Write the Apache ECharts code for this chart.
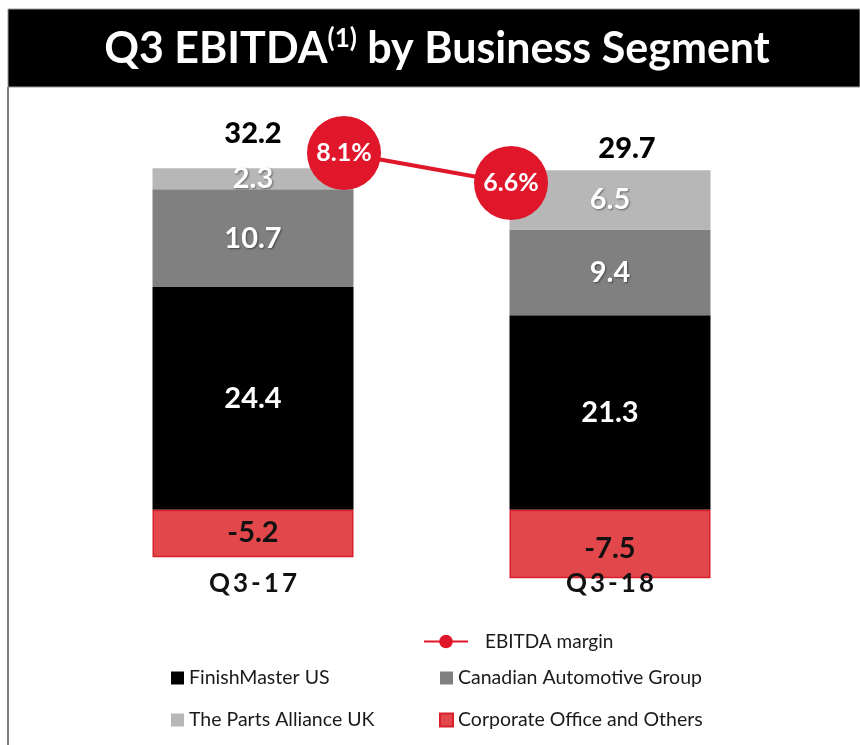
<!DOCTYPE html>
<html>
<head>
<meta charset="utf-8">
<script src="https://cdn.jsdelivr.net/npm/echarts@6/dist/echarts.min.js"></script>
<style>
html,body{margin:0;padding:0;background:#fff;}
#chart{width:860px;height:745px;}
</style>
</head>
<body>
<div id="chart"></div>
<script>
// ---- data ----
var categories = ['Q3-17', 'Q3-18'];
var finishMasterUS = [24.4, 21.3];
var canadianAutomotive = [10.7, 9.4];
var partsAllianceUK = [2.3, 6.5];
var corporateOffice = [-5.2, -7.5];
var totals = [32.2, 29.7];
var ebitdaMargin = [8.1, 6.6];
var seriesNames = ['FinishMaster US', 'Canadian Automotive Group', 'The Parts Alliance UK', 'Corporate Office and Others'];
var lineName = 'EBITDA margin';

var FONT = 'Lato';
var chart = echarts.init(document.getElementById('chart'), null, {renderer: 'canvas'});

var positiveTop = categories.map(function (c, i) {
  return [finishMasterUS[i], canadianAutomotive[i], partsAllianceUK[i], corporateOffice[i]]
    .filter(function (v) { return v > 0; })
    .reduce(function (a, b) { return a + b; }, 0);
});
var totalOffsets = [[0, -35], [17, -22]];
var corporateLabelOffsets = [[0, -1], [0, 5]];

var whiteLabel = {
  show: true, position: 'inside', color: '#fff', fontFamily: FONT, fontWeight: 'bold', fontSize: 29,
  textShadowColor: 'rgba(0,0,0,0.45)', textShadowBlur: 2, textShadowOffsetX: 1, textShadowOffsetY: 1,
  formatter: function (p) { return p.value.toFixed(1); }
};

function barSeries(name, data, color, label, extra) {
  var s = {
    name: name, type: 'bar', stack: 'seg', data: data, barWidth: 201,
    xAxisIndex: 0, yAxisIndex: 0,
    itemStyle: {color: color}, label: label, clip: false
  };
  if (extra) { for (var k in extra) s[k] = extra[k]; }
  return s;
}

var legendText = {fontFamily: FONT, fontSize: 19.5, color: '#1a1a1a', lineHeight: 19};

var option = {
  animation: false,
  backgroundColor: '#fff',
  graphic: [
    {type: 'rect', shape: {x: 8, y: 9, width: 852, height: 78}, style: {fill: '#000', stroke: '#9a9a9a', lineWidth: 1}, z: -10},
    {type: 'rect', shape: {x: 7, y: 87, width: 2, height: 658}, style: {fill: '#7f7f7f'}, z: -10},
    {type: 'text', x: 437, y: 49, z: 10,
      style: {
        text: '{a|Q3 EBITDA}{s|(1)}{a| by Business Segment}',
        align: 'center', verticalAlign: 'middle',
        rich: {
          a: {fontFamily: FONT, fontWeight: 'bold', fontSize: 43, fill: '#fff', color: '#fff'},
          s: {fontFamily: FONT, fontWeight: 'bold', fontSize: 26, fill: '#fff', color: '#fff', padding: [0, 0, 20, 0]}
        }
      }
    }
  ],
  grid: [
    {left: 74.5, right: 71.5, top: 99, bottom: 144},
    {left: 344, right: 349, top: 99, bottom: 144}
  ],
  xAxis: [
    {type: 'category', gridIndex: 0, data: categories, z: 10,
      axisLine: {show: false}, axisTick: {show: false}, splitLine: {show: false},
      axisLabel: {
        margin: -30, fontFamily: FONT, fontWeight: 'bold', fontSize: 26, color: '#111',
        formatter: function (v) { return v.split('').map(function (ch) { return '{c|' + ch + '}'; }).join(''); },
        rich: {c: {fontFamily: FONT, fontWeight: 'bold', fontSize: 26, color: '#111', padding: [0, 1.5, 0, 1.5]}}
      }
    },
    {type: 'category', gridIndex: 1, data: categories, boundaryGap: false, show: false}
  ],
  yAxis: [
    {type: 'value', gridIndex: 0, min: -10, max: 45, show: false, splitLine: {show: false}},
    {type: 'value', gridIndex: 1, min: -14.3, max: 10.8, show: false, splitLine: {show: false}}
  ],
  legend: [
    {data: [lineName], left: 418, top: 627, itemWidth: 44, itemHeight: 17, orient: 'horizontal',
      textStyle: {fontFamily: FONT, fontSize: 19, color: '#1a1a1a', padding: [0, 0, 0, 12]}},
    {data: [seriesNames[0], seriesNames[2]], left: 166, top: 663, orient: 'vertical', itemGap: 22,
      itemWidth: 13, itemHeight: 13, icon: 'rect', textStyle: legendText},
    {data: [seriesNames[1], seriesNames[3]], left: 434, top: 663, orient: 'vertical', itemGap: 22,
      itemWidth: 13, itemHeight: 13, icon: 'rect', textStyle: legendText}
  ],
  series: [
    barSeries(seriesNames[0], finishMasterUS, '#000000', whiteLabel),
    barSeries(seriesNames[1], canadianAutomotive, '#808080', whiteLabel),
    barSeries(seriesNames[2], partsAllianceUK, '#b7b7b7', whiteLabel),
    barSeries(seriesNames[3], corporateOffice.map(function (v, i) {
      return {value: v, label: {offset: corporateLabelOffsets[i]}};
    }), '#e2474c', {
      show: true, position: 'inside', color: '#111', fontFamily: FONT, fontWeight: 'bold', fontSize: 29,
      formatter: function (p) { return p.value.toFixed(1); }
    }, {itemStyle: {color: '#e2474c', borderColor: '#d91e2c', borderWidth: 1.5}}),
    {
      name: 'totals', type: 'scatter', xAxisIndex: 0, yAxisIndex: 0, symbolSize: 0, silent: true,
      itemStyle: {opacity: 1},
      data: positiveTop.map(function (v, i) {
        return {value: v, label: {offset: totalOffsets[i]}};
      }),
      label: {
        show: true, position: 'inside', color: '#000', opacity: 1, fontFamily: FONT, fontWeight: 900, fontSize: 29,
        formatter: function (p) { return totals[p.dataIndex].toFixed(1); }
      }, z: 5
    },
    {
      name: lineName, type: 'line', xAxisIndex: 1, yAxisIndex: 1, data: ebitdaMargin,
      symbol: 'circle', symbolSize: 74,
      lineStyle: {color: '#e0162b', width: 4},
      itemStyle: {color: '#e0162b'},
      label: {
        show: true, position: 'inside', color: '#fff', fontFamily: FONT, fontWeight: 'bold', fontSize: 25,
        formatter: function (p) { return p.value.toFixed(1) + '%'; }
      }, z: 6
    }
  ]
};
chart.setOption(option);
</script>
</body>
</html>
